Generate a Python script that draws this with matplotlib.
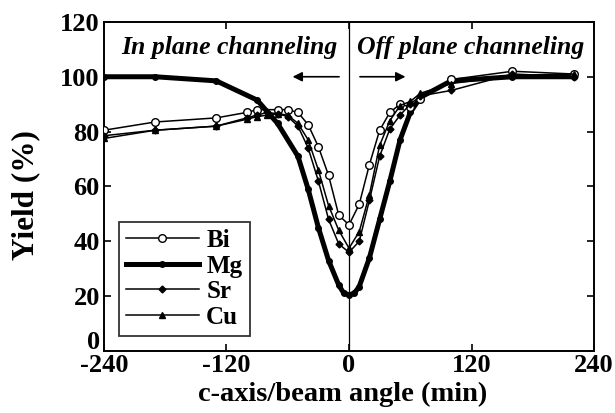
import matplotlib
matplotlib.use("Agg")
import matplotlib.pyplot as plt
from matplotlib.transforms import ScaledTranslation

# angle (min) and yield (%)
bi_x = [-240, -190, -130, -100, -90, -70, -60, -50, -40, -30, -20, -10, 0,
        10, 20, 30, 40, 50, 60, 70, 100, 160, 220]
bi_y = [80.5, 83.5, 85, 87, 88, 88, 88, 87, 82.5, 74.5, 64, 49.5, 46,
        53.5, 68, 80.5, 87, 90, 89, 92, 99, 102, 101]

mg_x = [-240, -190, -130, -90, -70, -50, -40, -30, -20, -10, -5, 0, 5,
        10, 20, 30, 40, 50, 60, 70, 100, 160, 220]
mg_y = [100, 100, 98.5, 91.5, 83, 71, 59, 45, 33, 24, 21, 20.5, 21,
        23.5, 34, 48, 62, 77, 87, 92.5, 98.5, 100, 100]

sr_x = [-240, -190, -130, -100, -90, -80, -70, -60, -50, -40, -30, -20, -10,
        0, 10, 20, 30, 40, 50, 60, 70, 100, 160, 220]
sr_y = [78.5, 80.5, 82, 85, 86, 87, 86.5, 85.5, 82, 74, 62, 48, 39,
        36, 40, 55, 71, 81, 86, 90, 93, 95, 101, 100]

cu_x = [-240, -190, -130, -100, -90, -80, -70, -60, -50, -40, -30, -20, -10,
        0, 10, 20, 30, 40, 50, 60, 70, 100, 160, 220]
cu_y = [77.5, 80.5, 82, 84.5, 85.5, 86, 86.5, 86, 83, 77, 66, 53, 44,
        37.5, 43.5, 57, 75, 84, 89.5, 91, 94, 97.5, 100.5, 101]

x_ticks = [-240, -120, 0, 120, 240]
y_ticks = [0, 20, 40, 60, 80, 100, 120]

plt.rcParams['font.family'] = ['Liberation Serif', 'DejaVu Serif']
plt.rcParams['font.weight'] = 'bold'
plt.rcParams['axes.labelweight'] = 'bold'
plt.rcParams['axes.unicode_minus'] = False

fig = plt.figure(figsize=(6.15, 4.13), dpi=100)
ax = fig.add_axes([0.169, 0.150, 0.797, 0.797])

ax.plot(bi_x, bi_y, color='black', lw=1.1, marker='o', ms=5.5,
        mfc='white', mec='black', mew=1.0, label='Bi', zorder=4)
ax.plot(mg_x, mg_y, color='black', lw=3.6, marker='o', ms=4,
        mfc='black', label='Mg', zorder=3)
ax.plot(sr_x, sr_y, color='black', lw=1.1, marker='D', ms=3.5,
        mfc='black', label='Sr', zorder=4)
ax.plot(cu_x, cu_y, color='black', lw=1.1, marker='^', ms=4,
        mfc='black', label='Cu', zorder=4)

ax.axvline(0, color='black', lw=0.9)

ax.set_xlim(-240, 240)
ax.set_ylim(0, 120)
ax.set_xticks(x_ticks)
ax.set_yticks(y_ticks)
ax.tick_params(direction='in', length=5, width=1.2, top=True, right=True,
               labelsize=19, pad=3)
ax.tick_params(axis='x', pad=2)
for s in ax.spines.values():
    s.set_linewidth(1.4)

# the "0" on the y axis sits a little above the corner in the original
lab0 = ax.get_yticklabels()[0]
lab0.set_transform(lab0.get_transform() +
                   ScaledTranslation(0, 11 / 100, fig.dpi_scale_trans))

ax.set_xlabel('c-axis/beam angle (min)', fontsize=20.5)
ax.xaxis.set_label_coords(0.486, -0.095)
ax.set_ylabel('Yield (%)', fontsize=22.5)
ax.yaxis.set_label_coords(-0.13, 0.474)

ax.text(-117, 110.5, 'In plane channeling', style='italic', fontsize=18.5,
        ha='center', va='center')
ax.text(119, 110.5, 'Off plane channeling', style='italic', fontsize=18.5,
        ha='center', va='center')
ax.annotate('', xy=(-58, 100), xytext=(-7, 100),
            arrowprops=dict(arrowstyle='-|>', color='black', lw=1.2,
                            mutation_scale=14))
ax.annotate('', xy=(58, 100), xytext=(8, 100),
            arrowprops=dict(arrowstyle='-|>', color='black', lw=1.2,
                            mutation_scale=14))

leg = ax.legend(loc='lower left', bbox_to_anchor=(0.03, 0.045), fontsize=18,
                frameon=True, fancybox=False, edgecolor='black',
                handlelength=2.9, handletextpad=0.3, labelspacing=0.1,
                borderpad=0.3, borderaxespad=0)
leg.get_frame().set_linewidth(1.3)

fig.savefig('out.png', dpi=100)
